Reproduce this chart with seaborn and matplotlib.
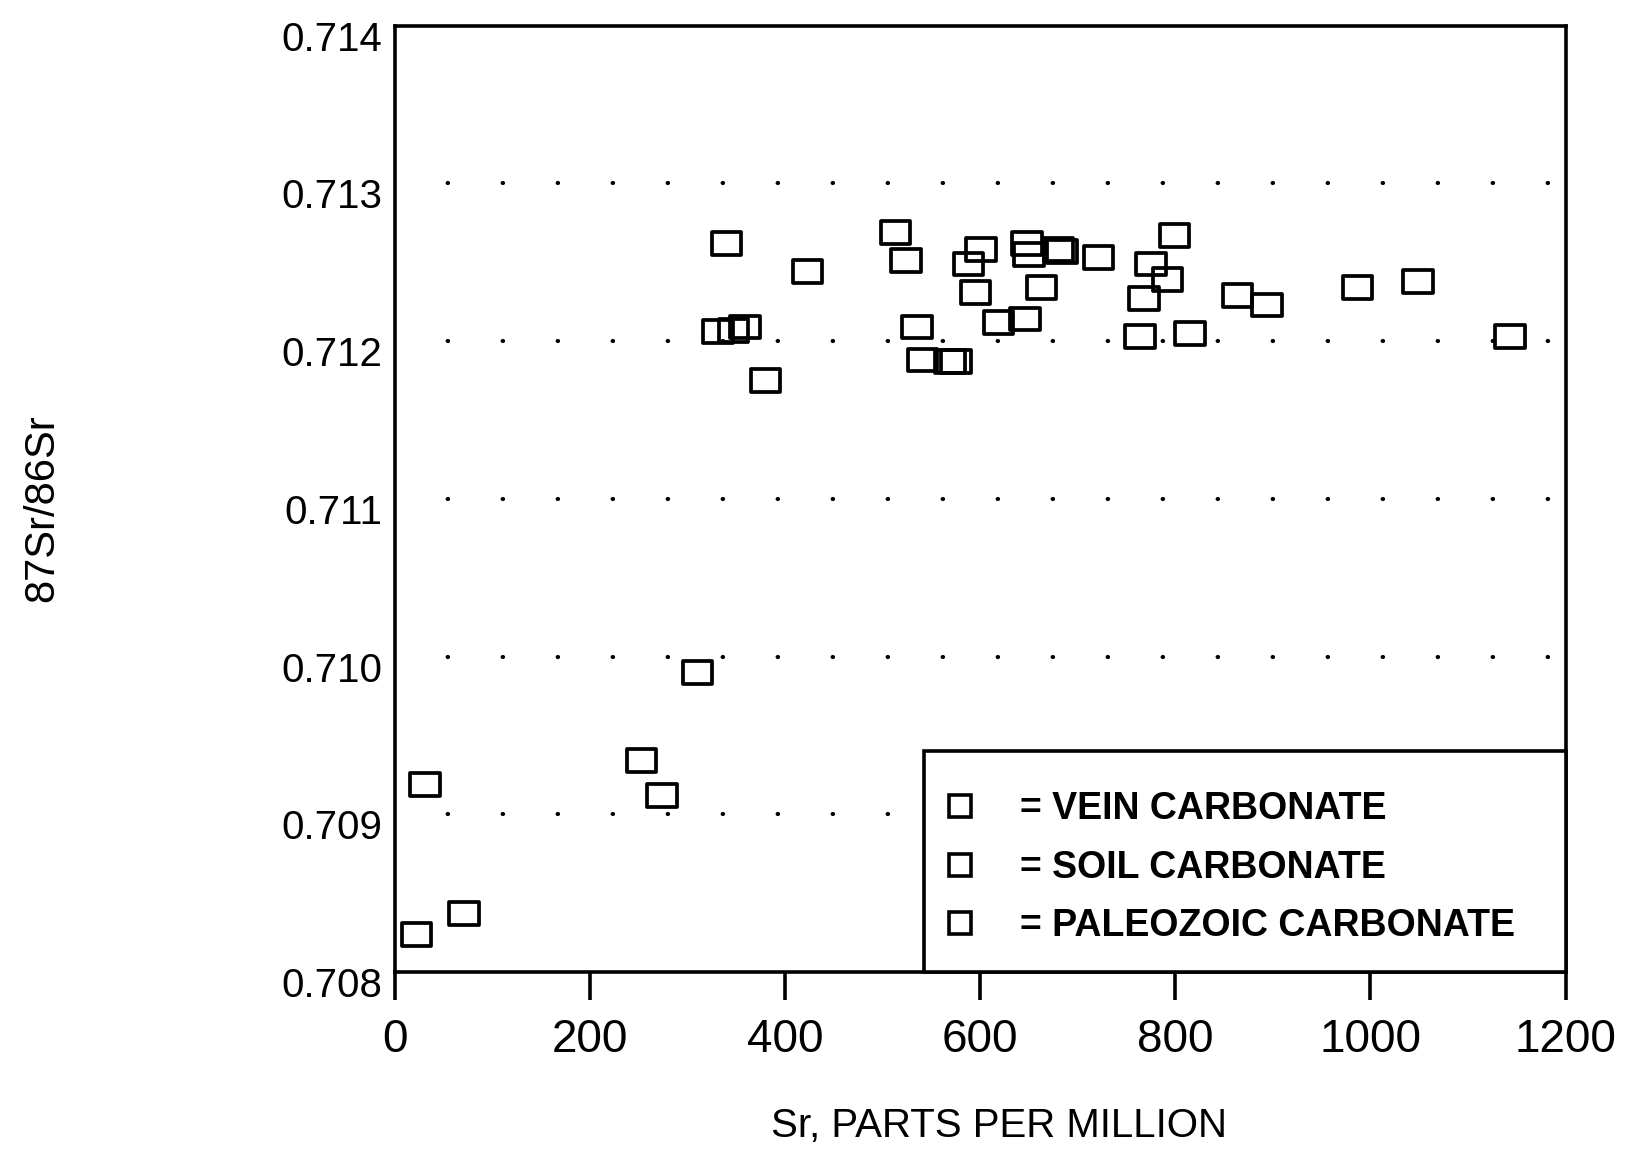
import numpy as np
import pandas as pd
import matplotlib
matplotlib.use("Agg")
import matplotlib.pyplot as plt
from matplotlib.path import Path
from matplotlib.patches import Rectangle
from matplotlib.lines import Line2D
from matplotlib.transforms import ScaledTranslation
import seaborn as sns

# ---- data: Sr concentration (ppm) and 87Sr/86Sr by carbonate type ----
categories = ["VEIN CARBONATE", "SOIL CARBONATE", "PALEOZOIC CARBONATE"]

vein_sr = [513, 524, 535, 541, 569, 575, 588, 601, 595, 619, 648, 650, 646, 663,
           680, 684, 721, 764, 768, 775, 792, 799, 815, 864, 894, 987, 1049, 1143]
vein_ratio = [0.71269, 0.71251, 0.71209, 0.71188, 0.71187, 0.71187, 0.71249,
              0.71258, 0.71231, 0.71212, 0.71262, 0.71255, 0.71214, 0.71234,
              0.71258, 0.71257, 0.71253, 0.71203, 0.71227, 0.71249, 0.71239,
              0.71267, 0.71205, 0.71229, 0.71223, 0.71234, 0.71238, 0.71203]

soil_sr = [310, 340, 331, 347, 359, 380, 423]
soil_ratio = [0.70990, 0.71262, 0.71206, 0.71207, 0.71209, 0.71175, 0.71244]

paleo_sr = [31, 22, 71, 253, 274]
paleo_ratio = [0.70919, 0.70824, 0.70837, 0.70934, 0.70912]

x_ticks = [0, 200, 400, 600, 800, 1000, 1200]
x_tick_labels = ["0", "200", "400", "600", "800", "1000", "1200"]
y_ticks = [0.708, 0.709, 0.710, 0.711, 0.712, 0.713, 0.714]
y_tick_labels = ["0.708", "0.709", "0.710", "0.711", "0.712", "0.713", "0.714"]
dotted_levels = [0.709, 0.710, 0.711, 0.712, 0.713]

# legend panel extent (ppm, ratio)
legend_x0 = 542
legend_top = 0.7094

df = pd.concat([
    pd.DataFrame({"sr": vein_sr, "ratio": vein_ratio, "kind": categories[0]}),
    pd.DataFrame({"sr": soil_sr, "ratio": soil_ratio, "kind": categories[1]}),
    pd.DataFrame({"sr": paleo_sr, "ratio": paleo_ratio, "kind": categories[2]}),
], ignore_index=True)

# ---- style ----
sns.set_style("white")
plt.rcParams["font.family"] = ["Liberation Sans", "DejaVu Sans"]
plt.rcParams["lines.scale_dashes"] = False
for key in ["text.color", "axes.labelcolor", "xtick.color", "ytick.color", "axes.edgecolor"]:
    plt.rcParams[key] = "black"

fig = plt.figure(figsize=(16.46, 11.61), dpi=100)
ax = fig.add_axes([0.2399, 0.1627, 0.7112, 0.8151])

# open rectangle marker, a little wider than tall
rect = Path([(-1, -0.77), (1, -0.77), (1, 0.77), (-1, 0.77), (-1, -0.77)],
            [Path.MOVETO, Path.LINETO, Path.LINETO, Path.LINETO, Path.CLOSEPOLY])

for kind in categories:
    sub = df[df["kind"] == kind]
    sns.scatterplot(data=sub, x="sr", y="ratio", marker=rect, s=450,
                    color="black", facecolor="none", edgecolor="black",
                    linewidth=2.7, legend=False, ax=ax, zorder=4)

# sparse dotted reference lines
for lvl in dotted_levels:
    ax.axhline(lvl, color="black", linewidth=3.0, zorder=1,
               linestyle=(1.7, (0.3, 39.3)), dash_capstyle="round")

ax.set_xlim(0, 1200)
ax.set_ylim(0.708, 0.714)
ax.set_xticks(x_ticks, labels=x_tick_labels)
ax.set_yticks(y_ticks, labels=y_tick_labels)
ax.tick_params(axis="x", direction="out", length=20, width=2.6, pad=13,
               labelsize=33, bottom=True)
ax.tick_params(axis="y", length=0, pad=9, labelsize=29)
for sp in ax.spines.values():
    sp.set_linewidth(2.6)
    sp.set_color("black")

ax.set_xlabel("Sr, PARTS PER MILLION", fontsize=29, va="center")
ax.xaxis.set_label_coords(0.516, -0.1627)
ax.set_ylabel("87Sr/86Sr", fontsize=30, va="center")
ax.yaxis.set_label_coords(-0.3014, 0.49)

# legend panel sitting on the x axis against the right spine
panel = Rectangle((legend_x0, 0.708), 1200 - legend_x0, legend_top - 0.708,
                  facecolor="white", edgecolor="black", linewidth=2.6,
                  zorder=3, clip_on=False)
ax.add_patch(panel)

handles = [Line2D([], [], marker="s", markersize=15.5, markerfacecolor="none",
                  markeredgecolor="black", markeredgewidth=2.6, linestyle="none")
           for _ in categories]
labels = ["= " + c for c in categories]
ax_w = 1170.7
ax_h = 946.3
leg = ax.legend(handles, labels, loc="upper left",
                bbox_to_anchor=(legend_x0 / 1200 + 18 / ax_w,
                                (legend_top - 0.708) / 0.006 - 40 / ax_h),
                bbox_transform=ax.transAxes, frameon=False, borderpad=0,
                borderaxespad=0, handlelength=1.0, handletextpad=1.1,
                labelspacing=0.6,
                prop={"family": ["Liberation Sans", "DejaVu Sans"],
                      "weight": "bold", "size": 27})
leg.set_zorder(6)

# y tick labels sit slightly below their levels
shift = ScaledTranslation(0, -10 / 100, fig.dpi_scale_trans)
for lab in ax.get_yticklabels():
    lab.set_transform(lab.get_transform() + shift)

fig.savefig("out.png", dpi=100, facecolor="white")
